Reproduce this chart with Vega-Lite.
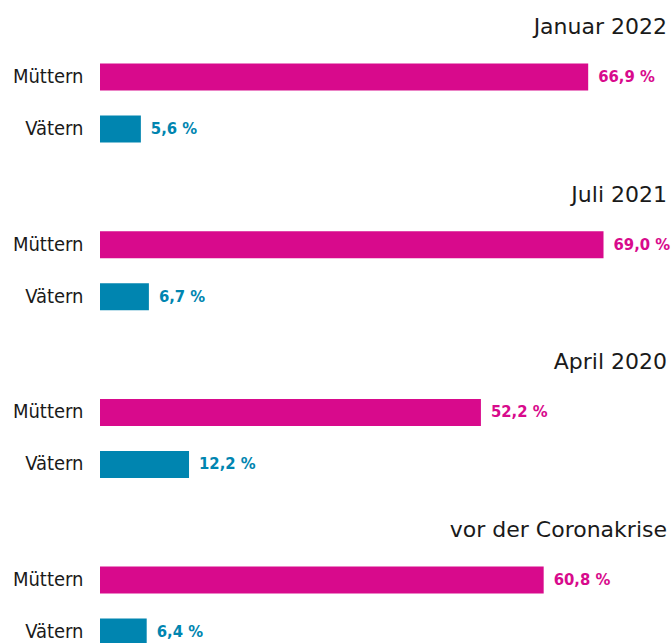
{
  "$schema": "https://vega.github.io/schema/vega-lite/v6.json",
  "padding": {"left": 12, "top": 16, "right": 5, "bottom": 0},
  "data": {"values": [
    {"group": "Januar 2022", "who": "Müttern", "value": 66.9, "label": "66,9 %"},
    {"group": "Januar 2022", "who": "Vätern", "value": 5.6, "label": "5,6 %"},
    {"group": "Juli 2021", "who": "Müttern", "value": 69.0, "label": "69,0 %"},
    {"group": "Juli 2021", "who": "Vätern", "value": 6.7, "label": "6,7 %"},
    {"group": "April 2020", "who": "Müttern", "value": 52.2, "label": "52,2 %"},
    {"group": "April 2020", "who": "Vätern", "value": 12.2, "label": "12,2 %"},
    {"group": "vor der Coronakrise", "who": "Müttern", "value": 60.8, "label": "60,8 %"},
    {"group": "vor der Coronakrise", "who": "Vätern", "value": 6.4, "label": "6,4 %"}
  ]},
  "facet": {
    "field": "group", "type": "nominal",
    "sort": ["Januar 2022", "Juli 2021", "April 2020", "vor der Coronakrise"],
    "header": {"title": null, "labelAnchor": "end", "labelAlign": "right", "labelFontSize": 22, "labelFont": "DejaVu Sans", "labelColor": "#1a1a1a", "labelPadding": 12}
  },
  "columns": 1,
  "spacing": 28.7,
  "spec": {
    "width": 567,
    "height": 104,
    "encoding": {
      "y": {"field": "who", "type": "nominal", "sort": ["Müttern", "Vätern"],
        "scale": {"paddingInner": 0.48, "paddingOuter": 0.24},
        "axis": {"title": null, "ticks": false, "domain": false, "labelPadding": 17, "labelFontSize": 20, "labelFont": "DejaVu Sans Condensed", "labelColor": "#1a1a1a"}},
      "x": {"field": "value", "type": "quantitative", "scale": {"domain": [0, 77.7], "nice": false}, "axis": null}
    },
    "layer": [
      {"mark": {"type": "bar"},
       "encoding": {"color": {"field": "who", "type": "nominal", "scale": {"domain": ["Müttern", "Vätern"], "range": ["#D80A8C", "#0085B0"]}, "legend": null}}},
      {"mark": {"type": "text", "align": "left", "baseline": "middle", "dx": 10, "fontWeight": "bold", "font": "DejaVu Sans Condensed", "fontSize": 16.5},
       "encoding": {"text": {"field": "label"}, "color": {"field": "who", "type": "nominal", "scale": {"domain": ["Müttern", "Vätern"], "range": ["#D80A8C", "#0085B0"]}, "legend": null}}}
    ]
  },
  "config": {"view": {"stroke": null}}
}
